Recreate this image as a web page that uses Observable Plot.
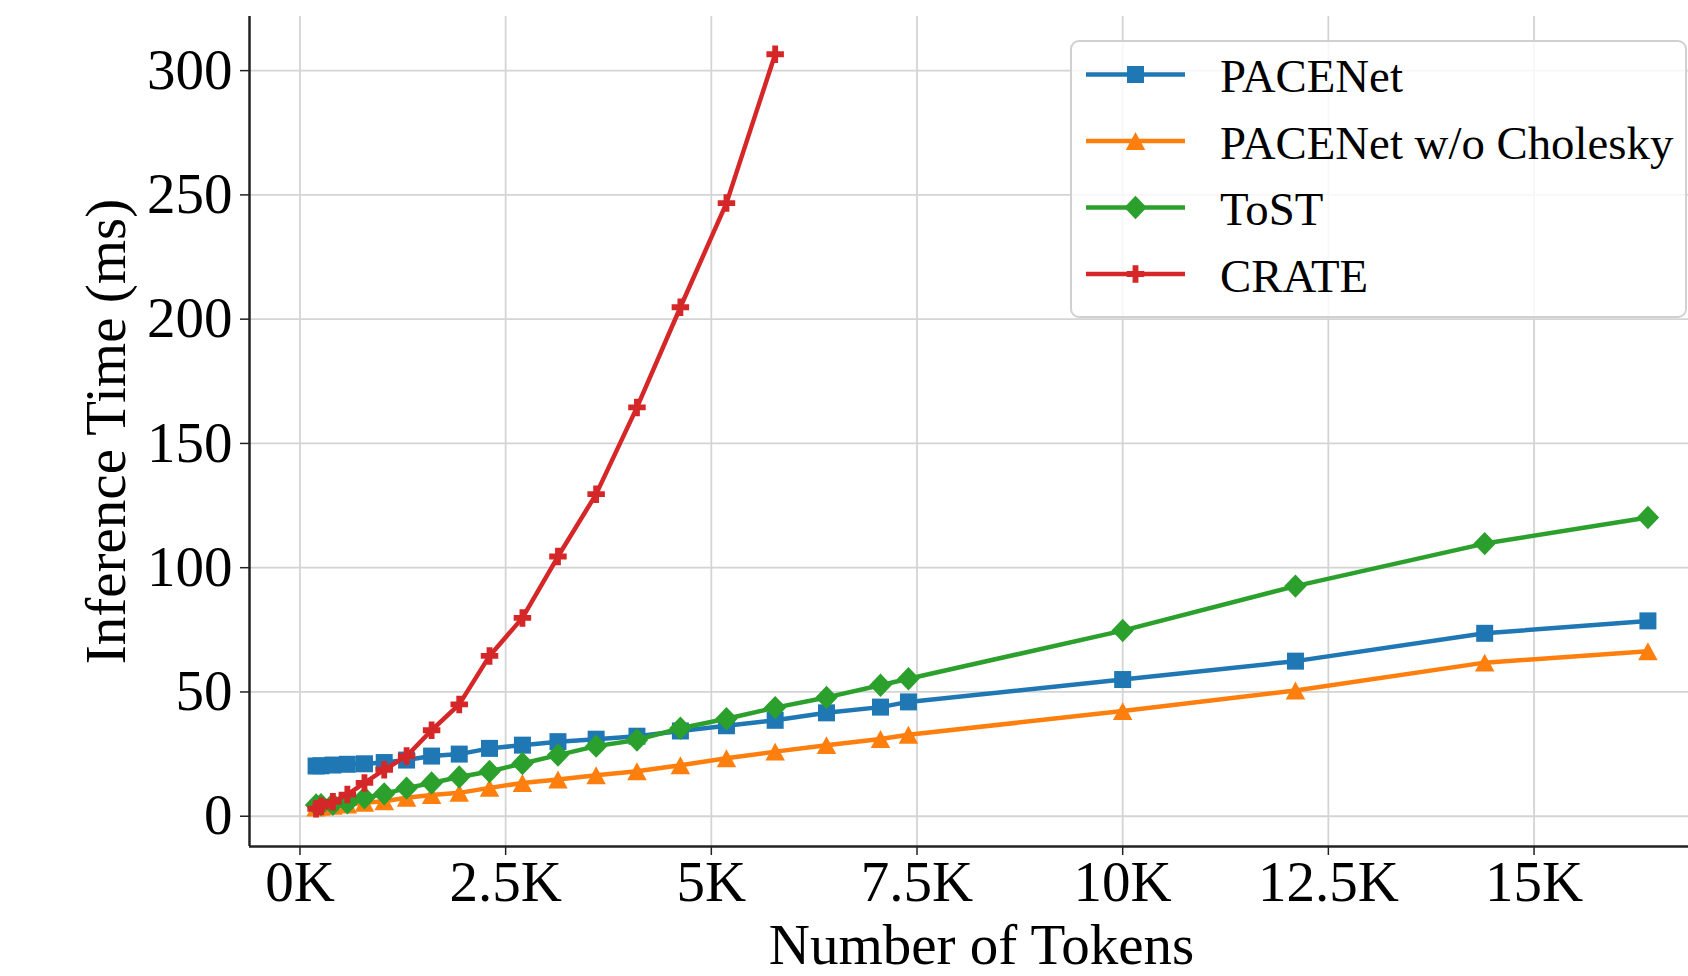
<!DOCTYPE html>
<html><head><meta charset="utf-8">
<script src="https://cdn.jsdelivr.net/npm/d3@7"></script>
<script src="https://cdn.jsdelivr.net/npm/@observablehq/plot@0.6"></script>
<style>
html,body{margin:0;padding:0;background:#fff;}
#wrap{position:relative;width:1688px;height:976px;overflow:hidden;}
#legend{position:absolute;left:0;top:0;pointer-events:none;}
</style></head><body><div id="wrap"></div>
<script>
// ---- data ----
const tokens = [196, 256, 400, 576, 784, 1024, 1296, 1600, 1936, 2304, 2704, 3136, 3600, 4096, 4624, 5184, 5776, 6400, 7056, 7396, 10000, 12100, 14400, 16384];
const pacenet = [20.2, 20.3, 20.6, 20.9, 21.1, 21.6, 22.6, 24.2, 25.0, 27.3, 28.6, 30.0, 31.0, 32.2, 34.3, 36.4, 38.6, 41.6, 43.9, 46.0, 55.0, 62.4, 73.6, 78.6];
const pacenetNoChol = [3.5, 3.8, 4.2, 4.7, 5.4, 6.0, 7.4, 8.5, 9.4, 11.4, 13.4, 14.8, 16.5, 18.1, 20.5, 23.3, 26.0, 28.6, 31.1, 32.8, 42.3, 50.6, 61.8, 66.4];
const tost = [4.5, 4.6, 4.8, 5.4, 7.4, 9.0, 11.3, 13.4, 15.8, 18.0, 21.2, 24.6, 28.2, 30.7, 35.4, 39.2, 43.7, 47.8, 52.7, 55.3, 74.7, 92.6, 109.7, 120.2];
const crate = [3.0, 4.0, 5.8, 8.7, 13.4, 18.7, 24.2, 34.6, 45.0, 64.5, 79.8, 104.5, 129.6, 164.5, 204.8, 246.7, 306.6];
const seriesNames = ["PACENet", "PACENet w/o Cholesky", "ToST", "CRATE"];
const seriesColors = ["#1f77b4", "#ff7f0e", "#2ca02c", "#d62728"];
const xTicks = [0, 2500, 5000, 7500, 10000, 12500, 15000];
const yTicks = [0, 50, 100, 150, 200, 250, 300];
const xLabel = "Number of Tokens";
const yLabel = "Inference Time (ms)";

// ---- marker shapes ----
const symSquare = d3.symbolSquare;
const symTriangle = {draw(ctx, size) { const s = Math.sqrt(size), w = s / 2, h = s * 0.46;
  ctx.moveTo(0, -h); ctx.lineTo(w, h); ctx.lineTo(-w, h); ctx.closePath(); }};
const symDiamond = {draw(ctx, size) { const s = Math.sqrt(size), w = s / 2, h = s * 0.52;
  ctx.moveTo(0, -h); ctx.lineTo(w, 0); ctx.lineTo(0, h); ctx.lineTo(-w, 0); ctx.closePath(); }};
const symPlus = {draw(ctx, size) { const s = Math.sqrt(size), a = s / 2, t = s / 6;
  ctx.moveTo(-t, -a); ctx.lineTo(t, -a); ctx.lineTo(t, -t); ctx.lineTo(a, -t); ctx.lineTo(a, t);
  ctx.lineTo(t, t); ctx.lineTo(t, a); ctx.lineTo(-t, a); ctx.lineTo(-t, t); ctx.lineTo(-a, t);
  ctx.lineTo(-a, -t); ctx.lineTo(-t, -t); ctx.closePath(); }};
const seriesSymbols = [symSquare, symTriangle, symDiamond, symPlus];
const markerSide = [17, 19.5, 22.5, 17.5];

const seriesValues = [pacenet, pacenetNoChol, tost, crate];
const data = seriesValues.map((vals, i) => vals.map((v, j) => ({x: tokens[j], y: v, series: seriesNames[i]})));

// axis limits as matplotlib would set them (5% margins), image cropped at right
const xMin = d3.min(tokens), xMax = d3.max(tokens), xPad = 0.05 * (xMax - xMin);
const allY = seriesValues.flat();
const yMin = d3.min(allY), yMax = d3.max(allY), yPad = 0.05 * (yMax - yMin);
const W = 1688, H = 976, mL = 249, mT = 16, mB = 130;
const fullXRange = 1465; // px width of the full axes (partially cropped)
const xLo = xMin - xPad, xHiFull = xMax + xPad;
const xHi = xLo + (xHiFull - xLo) * (W - mL) / fullXRange;
const xDomain = [xLo, xHi];
const yDomain = [yMin - yPad, yMax + yPad];

const FONT = "'Liberation Serif', 'Times New Roman', Times, serif";
const marks = [
  Plot.gridX(xTicks, {stroke: "#d4d4d4", strokeOpacity: 1, strokeWidth: 1.8}),
  Plot.gridY(yTicks, {stroke: "#d4d4d4", strokeOpacity: 1, strokeWidth: 1.8}),
];
data.forEach((d, i) => {
  marks.push(Plot.line(d, {x: "x", y: "y", stroke: seriesColors[i], strokeWidth: 4.5, strokeLinejoin: "round"}));
  marks.push(Plot.dot(d, {x: "x", y: "y", symbol: seriesSymbols[i], r: markerSide[i] / Math.sqrt(Math.PI), fill: seriesColors[i], stroke: "none"}));
});
marks.push(
  Plot.axisX({ticks: xTicks, tickFormat: d => d / 1000 + "K", tickSize: 9, tickPadding: 5, label: null, fontSize: 57, stroke: "#222", strokeWidth: 1.5}),
  Plot.axisY({ticks: yTicks, tickSize: 9, tickPadding: 8, label: null, fontSize: 57, stroke: "#222", strokeWidth: 1.5}),
  Plot.ruleX([xDomain[0]], {stroke: "#222", strokeWidth: 2.5}),
  Plot.ruleY([yDomain[0]], {stroke: "#222", strokeWidth: 2.5}),
  Plot.text([xLabel], {text: d => d, frameAnchor: "bottom", textAnchor: "middle", lineAnchor: "bottom", dx: 12.5, dy: 117, fontSize: 57, fill: "#000"}),
  Plot.text([yLabel], {text: d => d, frameAnchor: "left", textAnchor: "middle", lineAnchor: "bottom", rotate: -90, dx: -125, fontSize: 57, fill: "#000"})
);

const chart = Plot.plot({
  width: W, height: H,
  marginLeft: mL, marginRight: 0, marginTop: mT, marginBottom: mB,
  x: {domain: xDomain},
  y: {domain: yDomain},
  style: {fontFamily: FONT, fontSize: "57px", background: "#fff", color: "#000", overflow: "hidden"},
  marks
});
const wrap = document.getElementById("wrap");
wrap.appendChild(chart);

// ---- legend overlay (matplotlib style, upper right) ----
const lg = d3.select(wrap).append("svg").attr("id", "legend").attr("width", W).attr("height", H);
const box = {x: 1071, y: 41, w: 615, h: 276};
lg.append("rect").attr("x", box.x).attr("y", box.y).attr("width", box.w).attr("height", box.h)
  .attr("rx", 8).attr("fill", "rgba(255,255,255,0.8)").attr("stroke", "#d0d0d0").attr("stroke-width", 2);
const rowY = [74.5, 141, 207.5, 274];
seriesNames.forEach((name, i) => {
  const g = lg.append("g").attr("transform", `translate(0,${rowY[i]})`);
  g.append("line").attr("x1", 1086).attr("x2", 1185).attr("y1", 0).attr("y2", 0)
    .attr("stroke", seriesColors[i]).attr("stroke-width", 4.5);
  const side = markerSide[i];
  g.append("path").attr("transform", "translate(1135.5,0)")
    .attr("d", d3.symbol(seriesSymbols[i], side * side)())
    .attr("fill", seriesColors[i]);
  g.append("text").attr("x", 1220).attr("y", 0).attr("dy", "0.38em")
    .attr("font-family", FONT).attr("font-size", 46.8).attr("fill", "#000").text(name);
});
</script>
</body></html>
